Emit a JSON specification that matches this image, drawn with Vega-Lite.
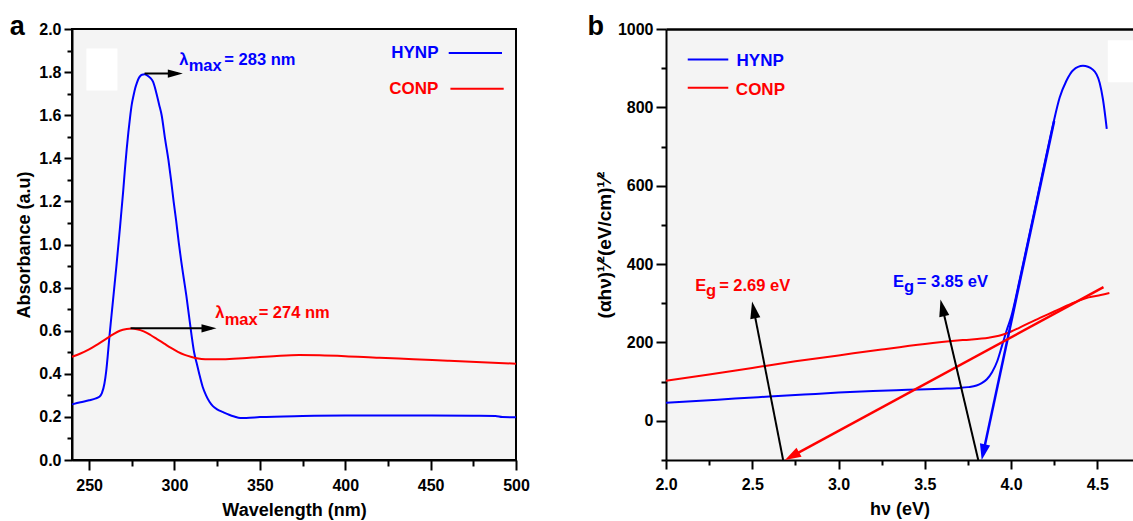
{
  "$schema": "https://vega.github.io/schema/vega-lite/v6.json",
  "usermeta": {"embedOptions": {"actions": false}},
  "background": "white",
  "padding": {"left": 8, "top": 12, "right": 0, "bottom": 0},
  "spacing": 56,
  "config": {
    "font": "Liberation Sans",
    "axis": {"grid": false, "labelColor": "black", "titleColor": "black", "tickColor": "black", "domainColor": "black", "labelFont": "Liberation Sans", "titleFont": "Liberation Sans", "labelFlush": false, "labelOverlap": false}
  },
  "datasets": {
    "uv": [
      {"s": "HYNP", "wl": 240, "a": 0.258}, {"s": "HYNP", "wl": 245, "a": 0.268}, {"s": "HYNP", "wl": 250, "a": 0.277}, {"s": "HYNP", "wl": 254, "a": 0.286},
      {"s": "HYNP", "wl": 256, "a": 0.293}, {"s": "HYNP", "wl": 257.5, "a": 0.31}, {"s": "HYNP", "wl": 259, "a": 0.355}, {"s": "HYNP", "wl": 260, "a": 0.41},
      {"s": "HYNP", "wl": 261, "a": 0.49}, {"s": "HYNP", "wl": 262, "a": 0.58}, {"s": "HYNP", "wl": 263, "a": 0.66}, {"s": "HYNP", "wl": 264, "a": 0.74},
      {"s": "HYNP", "wl": 265, "a": 0.82}, {"s": "HYNP", "wl": 266, "a": 0.9}, {"s": "HYNP", "wl": 267, "a": 0.985}, {"s": "HYNP", "wl": 268, "a": 1.07},
      {"s": "HYNP", "wl": 269, "a": 1.16}, {"s": "HYNP", "wl": 270, "a": 1.25}, {"s": "HYNP", "wl": 271, "a": 1.35}, {"s": "HYNP", "wl": 272, "a": 1.44},
      {"s": "HYNP", "wl": 273, "a": 1.52}, {"s": "HYNP", "wl": 274, "a": 1.59}, {"s": "HYNP", "wl": 275, "a": 1.65}, {"s": "HYNP", "wl": 276, "a": 1.69},
      {"s": "HYNP", "wl": 277, "a": 1.725}, {"s": "HYNP", "wl": 278, "a": 1.75}, {"s": "HYNP", "wl": 279, "a": 1.77}, {"s": "HYNP", "wl": 280, "a": 1.782},
      {"s": "HYNP", "wl": 281, "a": 1.788}, {"s": "HYNP", "wl": 282.5, "a": 1.79}, {"s": "HYNP", "wl": 284, "a": 1.785}, {"s": "HYNP", "wl": 286, "a": 1.772},
      {"s": "HYNP", "wl": 287.5, "a": 1.755}, {"s": "HYNP", "wl": 289.5, "a": 1.7}, {"s": "HYNP", "wl": 291, "a": 1.65}, {"s": "HYNP", "wl": 292.5, "a": 1.6},
      {"s": "HYNP", "wl": 294.5, "a": 1.49}, {"s": "HYNP", "wl": 296.5, "a": 1.39}, {"s": "HYNP", "wl": 298, "a": 1.3}, {"s": "HYNP", "wl": 299.5, "a": 1.2},
      {"s": "HYNP", "wl": 301, "a": 1.11}, {"s": "HYNP", "wl": 302.5, "a": 1.01}, {"s": "HYNP", "wl": 304, "a": 0.92}, {"s": "HYNP", "wl": 305.5, "a": 0.84},
      {"s": "HYNP", "wl": 307, "a": 0.76}, {"s": "HYNP", "wl": 308.5, "a": 0.67}, {"s": "HYNP", "wl": 310, "a": 0.58}, {"s": "HYNP", "wl": 311.5, "a": 0.5},
      {"s": "HYNP", "wl": 313, "a": 0.45}, {"s": "HYNP", "wl": 314.5, "a": 0.4}, {"s": "HYNP", "wl": 316.5, "a": 0.34}, {"s": "HYNP", "wl": 318.5, "a": 0.3},
      {"s": "HYNP", "wl": 320.5, "a": 0.27}, {"s": "HYNP", "wl": 322.5, "a": 0.25}, {"s": "HYNP", "wl": 325, "a": 0.235}, {"s": "HYNP", "wl": 328.5, "a": 0.222},
      {"s": "HYNP", "wl": 332, "a": 0.21}, {"s": "HYNP", "wl": 335, "a": 0.202}, {"s": "HYNP", "wl": 338.5, "a": 0.195}, {"s": "HYNP", "wl": 342, "a": 0.195},
      {"s": "HYNP", "wl": 350, "a": 0.199}, {"s": "HYNP", "wl": 375, "a": 0.204}, {"s": "HYNP", "wl": 400, "a": 0.206}, {"s": "HYNP", "wl": 425, "a": 0.206},
      {"s": "HYNP", "wl": 450, "a": 0.206}, {"s": "HYNP", "wl": 475, "a": 0.205}, {"s": "HYNP", "wl": 488, "a": 0.204}, {"s": "HYNP", "wl": 492, "a": 0.199},
      {"s": "HYNP", "wl": 500, "a": 0.198},
      {"s": "CONP", "wl": 240, "a": 0.479}, {"s": "CONP", "wl": 245, "a": 0.494}, {"s": "CONP", "wl": 250, "a": 0.513}, {"s": "CONP", "wl": 255, "a": 0.537},
      {"s": "CONP", "wl": 260, "a": 0.562}, {"s": "CONP", "wl": 264, "a": 0.583}, {"s": "CONP", "wl": 268, "a": 0.6}, {"s": "CONP", "wl": 272, "a": 0.608},
      {"s": "CONP", "wl": 275, "a": 0.61}, {"s": "CONP", "wl": 278, "a": 0.607}, {"s": "CONP", "wl": 282, "a": 0.597}, {"s": "CONP", "wl": 286, "a": 0.58},
      {"s": "CONP", "wl": 290, "a": 0.56}, {"s": "CONP", "wl": 294, "a": 0.54}, {"s": "CONP", "wl": 298, "a": 0.52}, {"s": "CONP", "wl": 302, "a": 0.502},
      {"s": "CONP", "wl": 306, "a": 0.488}, {"s": "CONP", "wl": 310, "a": 0.478}, {"s": "CONP", "wl": 314, "a": 0.471}, {"s": "CONP", "wl": 318, "a": 0.468},
      {"s": "CONP", "wl": 323, "a": 0.467}, {"s": "CONP", "wl": 330, "a": 0.468}, {"s": "CONP", "wl": 340, "a": 0.472}, {"s": "CONP", "wl": 350, "a": 0.478},
      {"s": "CONP", "wl": 360, "a": 0.483}, {"s": "CONP", "wl": 373, "a": 0.487}, {"s": "CONP", "wl": 385, "a": 0.486}, {"s": "CONP", "wl": 400, "a": 0.482},
      {"s": "CONP", "wl": 420, "a": 0.474}, {"s": "CONP", "wl": 440, "a": 0.468}, {"s": "CONP", "wl": 460, "a": 0.461}, {"s": "CONP", "wl": 480, "a": 0.454},
      {"s": "CONP", "wl": 500, "a": 0.447}
    ],
    "tauc": [
      {"s": "HYNP", "e": 2.0, "v": 46}, {"s": "HYNP", "e": 2.2, "v": 51}, {"s": "HYNP", "e": 2.4, "v": 57}, {"s": "HYNP", "e": 2.6, "v": 62},
      {"s": "HYNP", "e": 2.8, "v": 67}, {"s": "HYNP", "e": 3.0, "v": 72}, {"s": "HYNP", "e": 3.2, "v": 76}, {"s": "HYNP", "e": 3.4, "v": 79},
      {"s": "HYNP", "e": 3.6, "v": 82}, {"s": "HYNP", "e": 3.7, "v": 84}, {"s": "HYNP", "e": 3.75, "v": 86}, {"s": "HYNP", "e": 3.8, "v": 90},
      {"s": "HYNP", "e": 3.83, "v": 96}, {"s": "HYNP", "e": 3.86, "v": 106}, {"s": "HYNP", "e": 3.89, "v": 124}, {"s": "HYNP", "e": 3.92, "v": 152},
      {"s": "HYNP", "e": 3.95, "v": 195}, {"s": "HYNP", "e": 3.98, "v": 238}, {"s": "HYNP", "e": 4.0, "v": 264}, {"s": "HYNP", "e": 4.05, "v": 360},
      {"s": "HYNP", "e": 4.1, "v": 462}, {"s": "HYNP", "e": 4.15, "v": 565}, {"s": "HYNP", "e": 4.2, "v": 668}, {"s": "HYNP", "e": 4.243, "v": 755},
      {"s": "HYNP", "e": 4.282, "v": 825}, {"s": "HYNP", "e": 4.321, "v": 868}, {"s": "HYNP", "e": 4.36, "v": 895}, {"s": "HYNP", "e": 4.417, "v": 906},
      {"s": "HYNP", "e": 4.475, "v": 896}, {"s": "HYNP", "e": 4.514, "v": 862}, {"s": "HYNP", "e": 4.533, "v": 820}, {"s": "HYNP", "e": 4.555, "v": 745},
      {"s": "CONP", "e": 2.0, "v": 102}, {"s": "CONP", "e": 2.25, "v": 118}, {"s": "CONP", "e": 2.5, "v": 135}, {"s": "CONP", "e": 2.75, "v": 152},
      {"s": "CONP", "e": 3.0, "v": 167}, {"s": "CONP", "e": 3.25, "v": 182}, {"s": "CONP", "e": 3.5, "v": 196}, {"s": "CONP", "e": 3.72, "v": 206},
      {"s": "CONP", "e": 3.87, "v": 212}, {"s": "CONP", "e": 3.93, "v": 217}, {"s": "CONP", "e": 3.98, "v": 224}, {"s": "CONP", "e": 4.05, "v": 238},
      {"s": "CONP", "e": 4.14, "v": 257}, {"s": "CONP", "e": 4.25, "v": 279}, {"s": "CONP", "e": 4.35, "v": 299}, {"s": "CONP", "e": 4.45, "v": 315},
      {"s": "CONP", "e": 4.52, "v": 321}, {"s": "CONP", "e": 4.57, "v": 326}
    ]
  },
  "hconcat": [
    {
      "width": 444,
      "height": 431,
      "view": {"fill": "#f4f4f4", "stroke": "black", "strokeWidth": 2},
      "title": {"text": "a", "anchor": "start", "frame": "bounds", "fontSize": 27, "fontWeight": "bold", "font": "Liberation Sans", "offset": -41, "dx": -6, "baseline": "alphabetic"},
      "layer": [
        {
          "data": {"values": [{"x1": 248.4, "x2": 266.6, "y1": 1.715, "y2": 1.909}]},
          "mark": {"type": "rect", "color": "white"},
          "encoding": {
            "x": {"field": "x1", "type": "quantitative", "scale": {"domain": [240, 500], "nice": false, "zero": false},
                  "axis": {"orient": "bottom", "values": [250, 300, 350, 400, 450, 500], "format": "d", "title": "Wavelength (nm)", "labelFontSize": 16, "labelFontWeight": "bold", "labelPadding": 7, "tickSize": 10, "tickWidth": 2, "domainWidth": 2, "titleFontSize": 18, "titleFontWeight": "bold", "titlePadding": 8}},
            "x2": {"field": "x2"},
            "y": {"field": "y1", "type": "quantitative", "scale": {"domain": [0, 2], "nice": false, "zero": false},
                  "axis": {"orient": "left", "values": [0, 0.2, 0.4, 0.6, 0.8, 1.0, 1.2, 1.4, 1.6, 1.8, 2.0], "format": ".1f", "title": "Absorbance (a.u)", "labelFontSize": 16, "labelFontWeight": "bold", "labelPadding": 3, "tickSize": 8, "tickWidth": 2, "domainWidth": 2, "titleFontSize": 18, "titleFontWeight": "bold", "titlePadding": 5}},
            "y2": {"field": "y2"}
          }
        },
        {
          "data": {"name": "uv"},
          "mark": {"type": "line", "strokeWidth": 2, "interpolate": "monotone"},
          "encoding": {
            "x": {"field": "wl", "type": "quantitative", "axis": {"orient": "bottom", "values": [275, 325, 375, 425, 475], "labels": false, "domain": false, "title": null, "tickSize": 6, "tickWidth": 2}},
            "y": {"field": "a", "type": "quantitative", "axis": {"orient": "left", "values": [0.1, 0.3, 0.5, 0.7, 0.9, 1.1, 1.3, 1.5, 1.7, 1.9], "labels": false, "domain": false, "title": null, "tickSize": 5, "tickWidth": 2}},
            "color": {"field": "s", "type": "nominal", "scale": {"domain": ["HYNP", "CONP"], "range": ["#0000ff", "#ff0000"]}, "legend": null},
            "order": {"field": "wl", "type": "quantitative"}
          }
        },
        {
          "data": {"values": [{"x1": 282.5, "x2": 302, "y": 1.793}, {"x1": 274.3, "x2": 322, "y": 0.611}]},
          "mark": {"type": "rule", "color": "black", "strokeWidth": 2},
          "encoding": {"x": {"field": "x1", "type": "quantitative", "axis": null}, "x2": {"field": "x2"}, "y": {"field": "y", "type": "quantitative", "axis": null}}
        },
        {
          "data": {"values": [{"x": 304.9, "y": 1.793}, {"x": 324.6, "y": 0.611}]},
          "mark": {"type": "point", "shape": "M0,0L-0.55,2L0.55,2Z", "angle": 90, "size": 225, "filled": true, "color": "black", "opacity": 1},
          "encoding": {"x": {"field": "x", "type": "quantitative", "axis": null}, "y": {"field": "y", "type": "quantitative", "axis": null}}
        },
        {
          "data": {"values": [{"s": "HYNP", "x1": 460.6, "x2": 491.8, "y": 1.889}, {"s": "CONP", "x1": 461.6, "x2": 492.8, "y": 1.723}]},
          "mark": {"type": "rule", "strokeWidth": 2},
          "encoding": {"x": {"field": "x1", "type": "quantitative", "axis": null}, "x2": {"field": "x2"}, "y": {"field": "y", "type": "quantitative", "axis": null}, "color": {"field": "s", "type": "nominal", "legend": null}}
        },
        {
          "data": {"values": [{"s": "HYNP", "x": 454.6, "y": 1.867, "t": "HYNP"}, {"s": "CONP", "x": 454.6, "y": 1.70, "t": "CONP"}]},
          "mark": {"type": "text", "align": "right", "baseline": "alphabetic", "font": "Liberation Sans", "fontWeight": "bold", "fontSize": 17},
          "encoding": {"x": {"field": "x", "type": "quantitative", "axis": null}, "y": {"field": "y", "type": "quantitative", "axis": null}, "text": {"field": "t"}, "color": {"field": "s", "type": "nominal", "legend": null}}
        },
        {
          "data": {"values": [{"s": "HYNP", "x": 302.8, "y": 1.834, "t": "λ"}, {"s": "HYNP", "x": 329.2, "y": 1.834, "t": "= 283 nm"}, {"s": "CONP", "x": 323.9, "y": 0.66, "t": "λ"}, {"s": "CONP", "x": 349.3, "y": 0.66, "t": "= 274 nm"}]},
          "mark": {"type": "text", "align": "left", "baseline": "alphabetic", "font": "Liberation Sans", "fontWeight": "bold", "fontSize": 16.5},
          "encoding": {"x": {"field": "x", "type": "quantitative", "axis": null}, "y": {"field": "y", "type": "quantitative", "axis": null}, "text": {"field": "t"}, "color": {"field": "s", "type": "nominal", "legend": null}}
        },
        {
          "data": {"values": [{"s": "HYNP", "x": 308.3, "y": 1.803, "t": "max"}, {"s": "CONP", "x": 329.4, "y": 0.626, "t": "max"}]},
          "mark": {"type": "text", "align": "left", "baseline": "alphabetic", "font": "Liberation Sans", "fontWeight": "bold", "fontSize": 16.5},
          "encoding": {"x": {"field": "x", "type": "quantitative", "axis": null}, "y": {"field": "y", "type": "quantitative", "axis": null}, "text": {"field": "t"}, "color": {"field": "s", "type": "nominal", "legend": null}}
        }
      ],
      "resolve": {"axis": {"x": "independent", "y": "independent"}}
    },
    {
      "width": 467,
      "height": 431,
      "view": {"fill": "#f4f4f4", "stroke": null},
      "title": {"text": "b", "anchor": "start", "frame": "bounds", "fontSize": 27, "fontWeight": "bold", "font": "Liberation Sans", "offset": -41, "dx": -8, "baseline": "alphabetic"},
      "layer": [
        {
          "data": {"values": [{"x1": 4.561, "x2": 4.707, "y1": 864, "y2": 971}]},
          "mark": {"type": "rect", "color": "white"},
          "encoding": {
            "x": {"field": "x1", "type": "quantitative", "scale": {"domain": [2, 4.707], "nice": false, "zero": false},
                  "axis": {"orient": "bottom", "values": [2.0, 2.5, 3.0, 3.5, 4.0, 4.5], "format": ".1f", "title": "hν (eV)", "labelFontSize": 16, "labelFontWeight": "bold", "labelPadding": 7, "tickSize": 9, "tickWidth": 2, "domainWidth": 2, "titleFontSize": 18, "titleFontWeight": "bold", "titlePadding": 8}},
            "x2": {"field": "x2"},
            "y": {"field": "y1", "type": "quantitative", "scale": {"domain": [-100, 1000], "nice": false, "zero": false},
                  "axis": {"orient": "left", "values": [0, 200, 400, 600, 800, 1000], "format": "d", "title": "(αhν)¹⁄²(eV/cm)¹⁄²", "labelFontSize": 16, "labelFontWeight": "bold", "labelPadding": 3, "tickSize": 10, "tickWidth": 2, "domainWidth": 2, "titleFontSize": 19, "titleFontWeight": "bold", "titlePadding": 3}},
            "y2": {"field": "y2"}
          }
        },
        {
          "data": {"name": "tauc"},
          "mark": {"type": "line", "strokeWidth": 2, "interpolate": "monotone"},
          "encoding": {
            "x": {"field": "e", "type": "quantitative", "axis": {"orient": "bottom", "values": [2.25, 2.75, 3.25, 3.75, 4.25], "labels": false, "domain": false, "title": null, "tickSize": 5, "tickWidth": 2}},
            "y": {"field": "v", "type": "quantitative", "axis": {"orient": "left", "values": [-100, 100, 300, 500, 700, 900], "labels": false, "domain": false, "title": null, "tickSize": 5, "tickWidth": 2}},
            "color": {"field": "s", "type": "nominal", "scale": {"domain": ["HYNP", "CONP"], "range": ["#0000ff", "#ff0000"]}, "legend": null},
            "order": {"field": "e", "type": "quantitative"}
          }
        },
        {
          "data": {"values": [{"s": "HYNP", "x1": 2.126, "x2": 2.361, "y": 921.9}, {"s": "CONP", "x1": 2.126, "x2": 2.361, "y": 849.9}]},
          "mark": {"type": "rule", "strokeWidth": 2},
          "encoding": {"x": {"field": "x1", "type": "quantitative", "axis": {"orient": "top", "labels": false, "ticks": false, "title": null, "domainWidth": 2.5}}, "x2": {"field": "x2"}, "y": {"field": "y", "type": "quantitative", "axis": null}, "color": {"field": "s", "type": "nominal", "legend": null}}
        },
        {
          "data": {"values": [{"s": "HYNP", "x": 2.409, "y": 904.8, "t": "HYNP"}, {"s": "CONP", "x": 2.405, "y": 832.8, "t": "CONP"}]},
          "mark": {"type": "text", "align": "left", "baseline": "alphabetic", "font": "Liberation Sans", "fontWeight": "bold", "fontSize": 17},
          "encoding": {"x": {"field": "x", "type": "quantitative", "axis": null}, "y": {"field": "y", "type": "quantitative", "axis": null}, "text": {"field": "t"}, "color": {"field": "s", "type": "nominal", "legend": null}}
        },
        {
          "data": {"values": [{"s": "HYNP", "x1": 4.25, "y1": 765, "x2": 3.8397, "y2": -80}, {"s": "CONP", "x1": 4.536, "y1": 341, "x2": 2.7306, "y2": -90.3}]},
          "mark": {"type": "rule", "strokeWidth": 2.5},
          "encoding": {"x": {"field": "x1", "type": "quantitative", "axis": null}, "y": {"field": "y1", "type": "quantitative", "axis": null}, "x2": {"field": "x2"}, "y2": {"field": "y2"}, "color": {"field": "s", "type": "nominal", "legend": null}}
        },
        {
          "data": {"values": [{"x1": 2.679, "y1": -100, "x2": 2.508, "y2": 284.4}, {"x1": 3.81, "y1": -100, "x2": 3.6015, "y2": 289.7}]},
          "mark": {"type": "rule", "strokeWidth": 2, "color": "black"},
          "encoding": {"x": {"field": "x1", "type": "quantitative", "axis": null}, "y": {"field": "y1", "type": "quantitative", "axis": null}, "x2": {"field": "x2"}, "y2": {"field": "y2"}}
        },
        {
          "data": {"values": [{"x": 2.499, "y": 304.6}]},
          "mark": {"type": "point", "shape": "M0,0L-0.6,2L0.6,2Z", "angle": 349, "size": 289, "filled": true, "color": "black", "opacity": 1},
          "encoding": {"x": {"field": "x", "type": "quantitative", "axis": null}, "y": {"field": "y", "type": "quantitative", "axis": null}}
        },
        {
          "data": {"values": [{"x": 3.591, "y": 309.4}]},
          "mark": {"type": "point", "shape": "M0,0L-0.6,2L0.6,2Z", "angle": 347, "size": 289, "filled": true, "color": "black", "opacity": 1},
          "encoding": {"x": {"field": "x", "type": "quantitative", "axis": null}, "y": {"field": "y", "type": "quantitative", "axis": null}}
        },
        {
          "data": {"values": [{"x": 3.83, "y": -100}]},
          "mark": {"type": "point", "shape": "M0,0L-0.65,2L0.65,2Z", "angle": 192, "size": 256, "filled": true, "color": "#0000ff", "opacity": 1},
          "encoding": {"x": {"field": "x", "type": "quantitative", "axis": null}, "y": {"field": "y", "type": "quantitative", "axis": null}}
        },
        {
          "data": {"values": [{"x": 2.69, "y": -100}]},
          "mark": {"type": "point", "shape": "M0,0L-0.65,2L0.65,2Z", "angle": 241, "size": 256, "filled": true, "color": "#ff0000", "opacity": 1},
          "encoding": {"x": {"field": "x", "type": "quantitative", "axis": null}, "y": {"field": "y", "type": "quantitative", "axis": null}}
        },
        {
          "data": {"values": [{"s": "CONP", "x": 2.17, "y": 332.3, "t": "E"}, {"s": "CONP", "x": 2.308, "y": 332.3, "t": "= 2.69 eV"}, {"s": "HYNP", "x": 3.316, "y": 341, "t": "E"}, {"s": "HYNP", "x": 3.454, "y": 341, "t": "= 3.85 eV"}]},
          "mark": {"type": "text", "align": "left", "baseline": "alphabetic", "font": "Liberation Sans", "fontWeight": "bold", "fontSize": 16.5},
          "encoding": {"x": {"field": "x", "type": "quantitative", "axis": null}, "y": {"field": "y", "type": "quantitative", "axis": null}, "text": {"field": "t"}, "color": {"field": "s", "type": "nominal", "legend": null}}
        },
        {
          "data": {"values": [{"s": "CONP", "x": 2.232, "y": 318.8, "t": "g"}, {"s": "HYNP", "x": 3.38, "y": 328, "t": "g"}]},
          "mark": {"type": "text", "align": "left", "baseline": "alphabetic", "font": "Liberation Sans", "fontWeight": "bold", "fontSize": 16.5},
          "encoding": {"x": {"field": "x", "type": "quantitative", "axis": null}, "y": {"field": "y", "type": "quantitative", "axis": null}, "text": {"field": "t"}, "color": {"field": "s", "type": "nominal", "legend": null}}
        }
      ],
      "resolve": {"axis": {"x": "independent", "y": "independent"}}
    }
  ]
}
